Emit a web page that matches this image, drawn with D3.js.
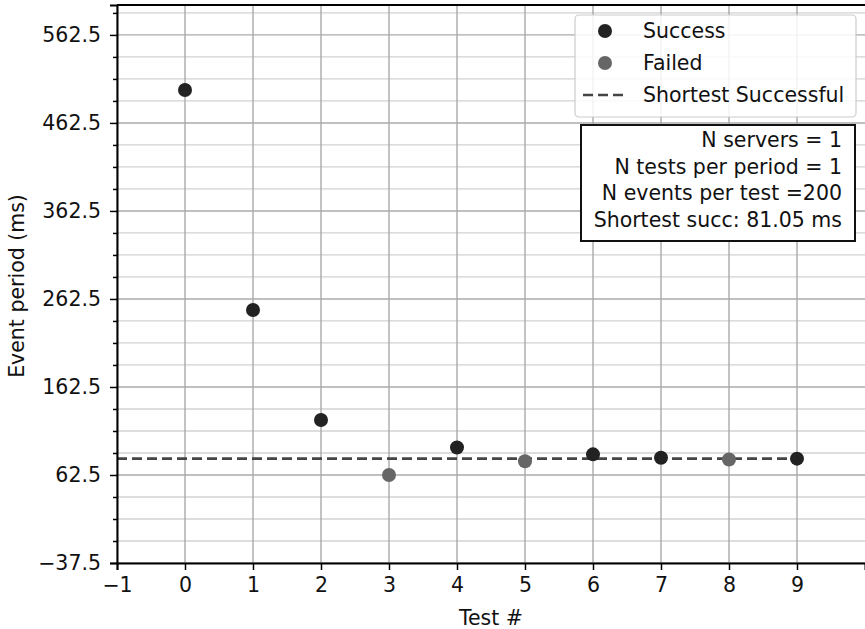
<!DOCTYPE html>
<html>
<head>
<meta charset="utf-8">
<script src="https://cdn.jsdelivr.net/npm/d3@7"></script>
<style>
  body { margin: 0; background: #fff; }
  text { font-family: "DejaVu Sans", sans-serif; fill: #111; }
</style>
</head>
<body>
<script>
// Data
const testIds = [0, 1, 2, 3, 4, 5, 6, 7, 8, 9];
const periods = [500, 250, 125, 62.5, 93.75, 78.13, 85.94, 82.03, 80.08, 81.05];
const outcomes = ['ok', 'ok', 'ok', 'fail', 'ok', 'fail', 'ok', 'ok', 'fail', 'ok'];
const shortestSucc = 81.05;
const xTicks = [-1, 0, 1, 2, 3, 4, 5, 6, 7, 8, 9];
const yTicks = [-37.5, 62.5, 162.5, 262.5, 362.5, 462.5, 562.5];
const yMinorTicks = d3.range(-37.5, 600, 25).filter(v => !yTicks.includes(v));
const legendItems = ['Success', 'Failed', 'Shortest Successful'];
const infoLines = ['N servers = 1', 'N tests per period = 1', 'N events per test =200', 'Shortest succ: 81.05 ms'];

const W = 865, H = 629;
const margin = { top: 5, right: 0, bottom: 66, left: 117 };
const width = W - margin.left - margin.right;
const height = H - margin.top - margin.bottom;
const fontSize = '20.5px';

const svg = d3.select('body').append('svg')
  .attr('width', W)
  .attr('height', H);

const g = svg.append('g')
  .attr('transform', `translate(${margin.left}, ${margin.top})`);

const x = d3.scaleLinear().domain([-1, 10]).range([0, width]);
const y = d3.scaleLinear().domain([-37.5, 596.5]).range([height, 0]);

// grid
g.append('g').selectAll('line')
  .data(yMinorTicks)
  .enter().append('line')
  .attr('x1', 0).attr('x2', width)
  .attr('y1', d => y(d)).attr('y2', d => y(d))
  .attr('stroke', '#d2d2d2').attr('stroke-width', 1.3);

g.append('g').selectAll('line')
  .data(yTicks)
  .enter().append('line')
  .attr('x1', 0).attr('x2', width)
  .attr('y1', d => y(d)).attr('y2', d => y(d))
  .attr('stroke', '#aaa').attr('stroke-width', 1.4);

g.append('g').selectAll('line')
  .data(xTicks)
  .enter().append('line')
  .attr('x1', d => x(d)).attr('x2', d => x(d))
  .attr('y1', 0).attr('y2', height)
  .attr('stroke', '#aaa').attr('stroke-width', 1.4);

// shortest successful line
g.append('line')
  .attr('x1', 0).attr('x2', x(9))
  .attr('y1', y(shortestSucc)).attr('y2', y(shortestSucc))
  .attr('stroke', '#444').attr('stroke-width', 2.6)
  .attr('stroke-dasharray', '10,5');

// points
g.selectAll('circle.pt')
  .data(testIds)
  .enter().append('circle')
  .attr('class', 'pt')
  .attr('cx', d => x(d))
  .attr('cy', (d, i) => y(periods[i]))
  .attr('r', 7)
  .attr('fill', (d, i) => outcomes[i] == 'ok' ? '#222' : '#666');

// axes
const xAxis = d3.axisBottom(x).tickValues(xTicks).tickSize(7).tickPadding(7)
  .tickFormat(d => d < 0 ? '\u2212' + Math.abs(d) : d);
const yAxis = d3.axisLeft(y).tickValues(yTicks).tickSize(7).tickPadding(9)
  .tickFormat(d => (d < 0 ? '\u2212' : '') + Math.abs(d).toFixed(1));

const gx = g.append('g').attr('transform', `translate(0, ${height})`).call(xAxis);
const gy = g.append('g').call(yAxis);

g.append('g').call(d3.axisLeft(y).tickValues(yMinorTicks).tickSize(4).tickFormat(''))
  .select('.domain').remove();

[gx, gy].forEach(a => {
  a.select('.domain').attr('stroke', '#000').attr('stroke-width', 2);
  a.selectAll('.tick text').style('font-size', fontSize).attr('fill', '#111');
});
g.selectAll('.tick line').attr('stroke', '#000').attr('stroke-width', 1.5);

// top spine
g.append('line')
  .attr('x1', 0).attr('x2', width)
  .attr('y1', 0).attr('y2', 0)
  .attr('stroke', '#000').attr('stroke-width', 2);

// axis labels
svg.append('text')
  .text('Test #')
  .attr('x', margin.left + width / 2)
  .attr('y', 625)
  .attr('text-anchor', 'middle')
  .style('font-size', fontSize);

svg.append('text')
  .text('Event period (ms)')
  .attr('transform', `translate(24, ${margin.top + height / 2 + 2}) rotate(-90)`)
  .attr('text-anchor', 'middle')
  .style('font-size', fontSize);

// legend
const legend = svg.append('g');
legend.append('rect')
  .attr('x', 575).attr('y', 15)
  .attr('width', 281).attr('height', 102)
  .attr('rx', 4)
  .attr('fill', 'rgba(255,255,255,0.85)')
  .attr('stroke', '#ccc').attr('stroke-width', 1.2);

legend.selectAll('text')
  .data(legendItems)
  .enter().append('text')
  .text(d => d)
  .attr('x', 643)
  .attr('y', (d, i) => 31 + i * 32)
  .attr('dominant-baseline', 'central')
  .style('font-size', fontSize);

legend.selectAll('circle')
  .data(legendItems.slice(0, 2))
  .enter().append('circle')
  .attr('cx', 605)
  .attr('cy', (d, i) => 31 + i * 32)
  .attr('r', 7)
  .attr('fill', (d, i) => i == 0 ? '#222' : '#666');

legend.append('line')
  .attr('x1', 583).attr('x2', 627)
  .attr('y1', 95).attr('y2', 95)
  .attr('stroke', '#444').attr('stroke-width', 2.6)
  .attr('stroke-dasharray', '10,5');

// info box
const info = svg.append('g');
info.append('rect')
  .attr('x', 581).attr('y', 125)
  .attr('width', 274).attr('height', 116)
  .attr('fill', '#fff')
  .attr('stroke', '#111').attr('stroke-width', 2);

info.selectAll('text')
  .data(infoLines)
  .enter().append('text')
  .text(d => d)
  .attr('x', 842)
  .attr('y', (d, i) => 140 + i * 26.5)
  .attr('text-anchor', 'end')
  .attr('dominant-baseline', 'central')
  .style('font-size', fontSize);
</script>
</body>
</html>
